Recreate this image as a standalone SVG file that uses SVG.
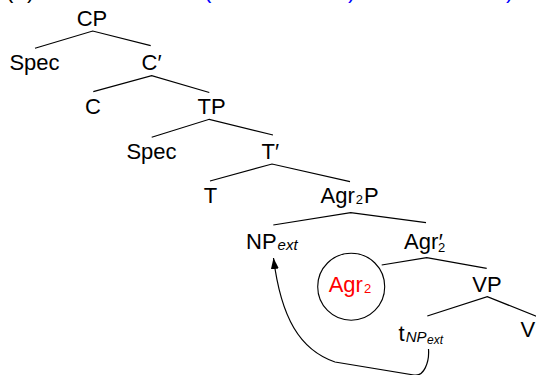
<svg xmlns="http://www.w3.org/2000/svg" width="536" height="375" viewBox="0 0 536 375">
<defs>
<style>
text{font-family:"Liberation Sans",Arial,sans-serif;font-size:22px;fill:#000}
.c{text-anchor:middle}
.sub{font-size:13px}
.it{font-style:italic}
.red{fill:#ff0000}
.blue{fill:#0000ff}
.edge{fill:none;stroke:#000;stroke-width:1.2}
</style>
<marker id="ah" viewBox="0 0 11 8" refX="11" refY="4" markerWidth="11" markerHeight="8" markerUnits="userSpaceOnUse" orient="auto">
<path d="M0,0 L11,4 L0,8 z" fill="#000"/>
</marker>
</defs>
<g id="fragments">
<text x="6" y="-1.8">(</text>
<text x="27" y="-1.8">)</text>
<text class="blue" x="204" y="-1.8">(</text>
<text class="blue" x="348" y="-1.8">)</text>
<text class="blue" x="506" y="-1.8">)</text>
</g>
<g id="connectors">
<polyline class="edge" points="35,48.3 92.7,31 150.7,45.7"/>
<polyline class="edge" points="93.3,91.7 151.7,75.7 209.3,92.5"/>
<polyline class="edge" points="151.7,137.3 209.3,119.3 273,135"/>
<polyline class="edge" points="210,181 272,164 350,181.7"/>
<polyline class="edge" points="273.3,225 350.7,212.7 426,222.7"/>
<polyline class="edge" points="381.7,265 426.7,257.7 486.7,268.3"/>
<polyline class="edge" points="427.3,316 487.3,296.7 545,319.7"/>
<path class="edge" d="M428.5,349 C429.5,362 424,377 414,375 C402,373 370,368 335,362 M335,362 C300,350 281,318 273.5,258" marker-end="url(#ah)"/>
</g>
<g id="CP"><text class="c" x="92" y="26">CP</text></g>
<g id="Spec1"><text class="c" x="34.5" y="69.5">Spec</text></g>
<g id="Cbar"><text x="141.5" y="69.5">C′</text></g>
<g id="C"><text class="c" x="93" y="114">C</text></g>
<g id="TP"><text class="c" x="211.5" y="114">TP</text></g>
<g id="Spec2"><text class="c" x="151.5" y="158.5">Spec</text></g>
<g id="Tbar"><text x="261.5" y="158.5">T′</text></g>
<g id="T"><text class="c" x="210.5" y="203">T</text></g>
<g id="Agr2P"><text x="320.5" y="203.3">Agr<tspan class="sub" dx="1" dy="1">2</tspan><tspan dx="1" dy="-1">P</tspan></text></g>
<g id="NPext"><text x="246" y="248.5">NP<tspan class="it" font-size="15" dx="1" dy="1">ext</tspan></text></g>
<g id="Agr2bar"><text x="404" y="248.5">Agr<tspan dx="0.5">′</tspan><tspan class="sub" dx="-5" dy="3">2</tspan></text></g>
<g id="Agr2"><circle cx="351.2" cy="286.7" r="33.5" fill="none" stroke="#000" stroke-width="1.1"/><text class="red" x="328.7" y="292.3">Agr<tspan class="sub" dx="1" dy="1">2</tspan></text></g>
<g id="VP"><text x="472.3" y="292.3">VP</text></g>
<g id="tNPext"><text x="398.5" y="341">t<tspan class="it" font-size="15" dx="1" dy="0.5">NP</tspan><tspan class="it" font-size="12" dx="0.5" dy="2">ext</tspan></text></g>
<g id="V"><text x="520.5" y="337">V</text></g>
</svg>
